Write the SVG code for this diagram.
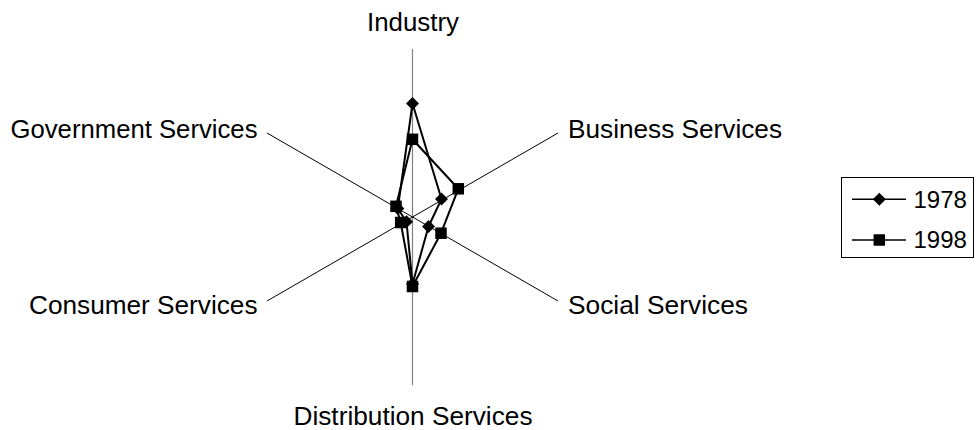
<svg xmlns="http://www.w3.org/2000/svg" width="976" height="430" viewBox="0 0 976 430">
<defs>
<style>
.lbl{font-family:"Liberation Sans",Arial,sans-serif;font-size:25px;fill:#000}
.leg{font-family:"Liberation Sans",Arial,sans-serif;font-size:24px;fill:#000}
.axis{stroke:#000;stroke-width:1;fill:none}
.vaxis{stroke:#808080;stroke-width:1.2;fill:none}
.series{stroke:#000;stroke-width:2;fill:none;stroke-linejoin:round}
</style>
<path id="dia" d="M0,-6.5 L6.5,0 L0,6.5 L-6.5,0 Z" fill="#000"/>
<rect id="sq" x="-5.75" y="-5.75" width="11.5" height="11.5" fill="#000"/>
</defs>
<rect width="976" height="430" fill="#fff"/>

<g id="axes">
<line class="vaxis" x1="412.5" y1="49" x2="412.5" y2="385"/>
<line class="axis" x1="412.5" y1="217" x2="558" y2="133"/>
<line class="axis" x1="412.5" y1="217" x2="558" y2="301"/>
<line class="axis" x1="412.5" y1="217" x2="267" y2="301"/>
<line class="axis" x1="412.5" y1="217" x2="267" y2="133"/>
</g>

<g id="labels">
<text class="lbl" x="367" y="30.5" textLength="92" lengthAdjust="spacingAndGlyphs">Industry</text>
<text class="lbl" x="568" y="138.3" textLength="214" lengthAdjust="spacingAndGlyphs">Business Services</text>
<text class="lbl" x="568" y="314" textLength="180" lengthAdjust="spacingAndGlyphs">Social Services</text>
<text class="lbl" x="293.5" y="425" textLength="239" lengthAdjust="spacingAndGlyphs">Distribution Services</text>
<text class="lbl" x="29" y="314" textLength="228.5" lengthAdjust="spacingAndGlyphs">Consumer Services</text>
<text class="lbl" x="10.5" y="138.3" textLength="247" lengthAdjust="spacingAndGlyphs">Government Services</text>
</g>

<g id="series-1978">
<polygon class="series" points="412.5,103.5 441.5,199 428.5,226.5 412.5,284 406.5,221.8 397.8,208.5"/>
<use href="#dia" x="412.5" y="103.5"/>
<use href="#dia" x="441.5" y="199"/>
<use href="#dia" x="428.5" y="226.5"/>
<use href="#dia" x="412.5" y="284"/>
<use href="#dia" x="406.5" y="221.8"/>
<use href="#dia" x="397.8" y="208.5"/>
</g>

<g id="series-1998">
<polygon class="series" points="412.5,139.3 458.3,188.8 441,233.2 412.5,286.5 400.7,222.5 396,206.3"/>
<use href="#sq" x="412.5" y="139.3"/>
<use href="#sq" x="458.3" y="188.8"/>
<use href="#sq" x="441" y="233.2"/>
<use href="#sq" x="412.5" y="286.5"/>
<use href="#sq" x="400.7" y="222.5"/>
<use href="#sq" x="396" y="206.3"/>
</g>

<g id="legend">
<rect x="841.5" y="177.5" width="132" height="80" fill="#fff" stroke="#000" stroke-width="1"/>
<line x1="852" y1="199.3" x2="906" y2="199.3" stroke="#000" stroke-width="1.5"/>
<use href="#dia" x="879.3" y="199.3"/>
<text class="leg" x="913.5" y="207.7">1978</text>
<line x1="852" y1="240" x2="906" y2="240" stroke="#000" stroke-width="1.5"/>
<use href="#sq" x="879.3" y="240"/>
<text class="leg" x="913.5" y="248.3">1998</text>
</g>
</svg>
